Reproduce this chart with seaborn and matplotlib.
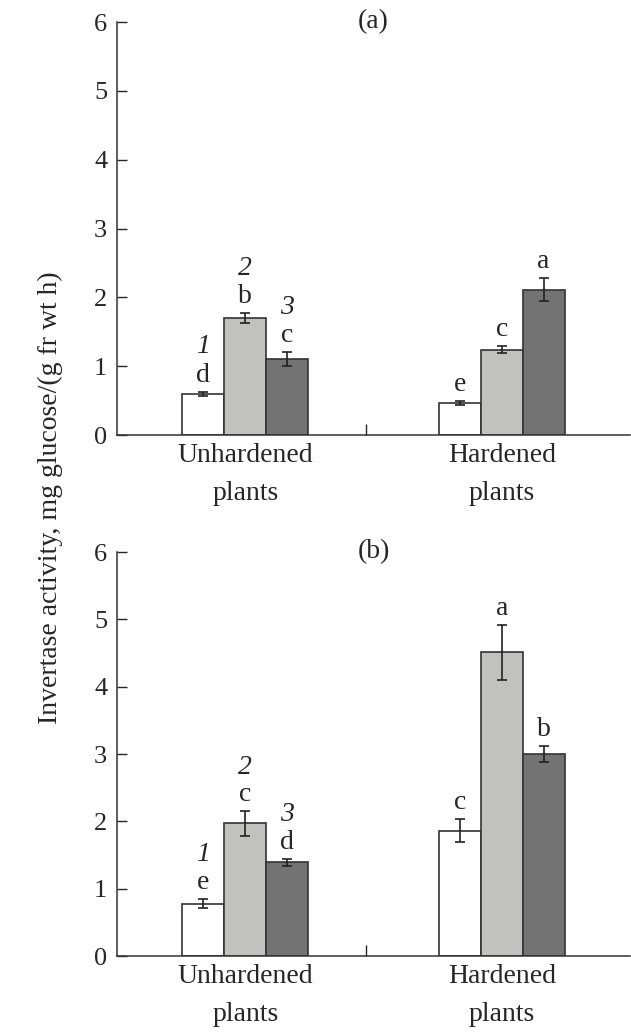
import pandas as pd
import matplotlib.pyplot as plt
import numpy as np
import seaborn as sns

# data
groups = ['Unhardened\nplants', 'Hardened\nplants']
variants = ['1', '2', '3']
colors = ['#ffffff', '#c1c2c0', '#737373']

mean_a = [[0.60, 1.70, 1.10], [0.46, 1.24, 2.11]]
err_a = [[0.03, 0.07, 0.10], [0.03, 0.05, 0.17]]
letters_a = [['d', 'b', 'c'], ['e', 'c', 'a']]

mean_b = [[0.78, 1.97, 1.39], [1.86, 4.51, 3.00]]
err_b = [[0.07, 0.18, 0.05], [0.17, 0.41, 0.12]]
letters_b = [['e', 'c', 'd'], ['c', 'a', 'b']]

sns.set_style('ticks')
plt.rcParams['font.family'] = ['Liberation Serif', 'DejaVu Serif']


def make_frame(means, errs):
    rows = []
    for gi, g in enumerate(groups):
        for vi, v in enumerate(variants):
            rows.append({'group': g, 'variant': v,
                         'value': means[gi][vi], 'err': errs[gi][vi]})
    return pd.DataFrame(rows)


def draw_panel(ax, means, errs, letters, title):
    df = make_frame(means, errs)
    sns.barplot(data=df, x='group', y='value', hue='variant', palette=colors,
                order=groups, hue_order=variants, width=0.49, gap=0,
                errorbar=None, edgecolor='#333333', linewidth=1.2,
                legend=False, ax=ax)
    bar_conts = list(ax.containers)
    # error bars + significance letters
    for vi, cont in enumerate(bar_conts):
        for gi, bar in enumerate(cont.patches):
            x = bar.get_x() + bar.get_width() / 2
            y = means[gi][vi]
            e = errs[gi][vi]
            ax.errorbar(x, y, yerr=e, fmt='none', ecolor='#222222',
                        elinewidth=1.2, capsize=3.5, capthick=1.2)
            ax.text(x, y + e + 0.06, letters[gi][vi], ha='center', va='bottom',
                    fontsize=20)
            if gi == 0:
                ax.text(x, y + e + 0.47, variants[vi], ha='center',
                        va='bottom', fontsize=20, style='italic')
    ax.set_xlim(-0.5, 1.5)
    ax.set_ylim(0, 6)
    ax.set_yticks(range(7))
    ax.set_xlabel('')
    ax.set_ylabel('')
    ax.tick_params(axis='y', direction='in', length=7, width=1,
                   labelsize=19, pad=7)
    ax.tick_params(axis='x', length=0, labelsize=20, pad=6)
    for lab in ax.get_xticklabels():
        lab.set_linespacing(1.65)
    ax.set_xticks([0.47], minor=True)
    ax.tick_params(axis='x', which='minor', direction='in', length=8,
                   width=1)
    for s in ['top', 'right']:
        ax.spines[s].set_visible(False)
    for s in ['left', 'bottom']:
        ax.spines[s].set_linewidth(1.1)
        ax.spines[s].set_color('#333333')
    ax.text(0.5, 1.0, title, transform=ax.transAxes, ha='center',
            va='center', fontsize=20)


fig = plt.figure(figsize=(6.31, 10.34), dpi=100)
ax_a = fig.add_axes([0.1854, 0.5793, 0.813, 0.3994])
ax_b = fig.add_axes([0.1854, 0.0754, 0.813, 0.3907])

draw_panel(ax_a, mean_a, err_a, letters_a, '(a)')
draw_panel(ax_b, mean_b, err_b, letters_b, '(b)')

fig.text(0.080, 0.519, 'Invertase activity, mg glucose/(g fr wt h)',
         rotation=90, ha='center', va='center', fontsize=20)

fig.savefig('out.png', dpi=100)
